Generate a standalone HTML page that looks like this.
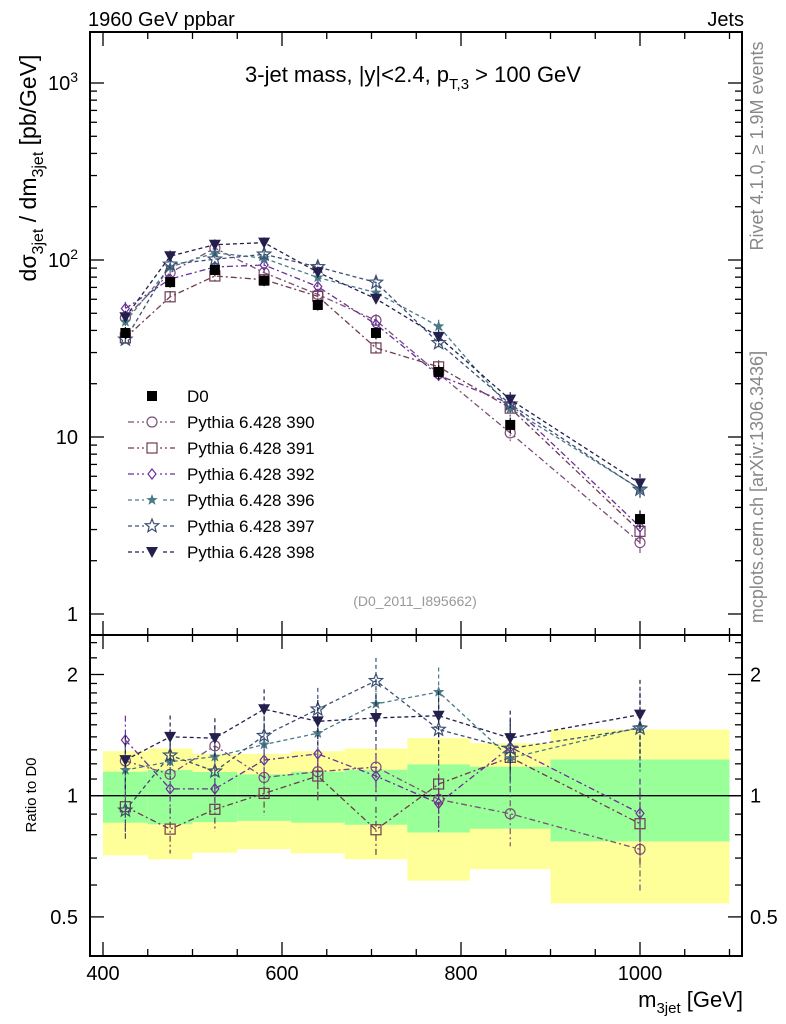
<!DOCTYPE html>
<html><head><meta charset="utf-8"><style>
body{margin:0;background:#fff;}
svg{display:block;font-family:"Liberation Sans",sans-serif;}
</style></head><body>
<svg id="chart" width="786" height="1024" viewBox="0 0 786 1024" xmlns="http://www.w3.org/2000/svg">
<g id="bands"></g>
<g id="marks"></g>
<g id="axes"></g>
<text x="88" y="26" font-size="20">1960 GeV ppbar</text>
<text x="744" y="26" font-size="20" text-anchor="end">Jets</text>
<text x="413" y="82" font-size="22" text-anchor="middle">3-jet mass, |y|&lt;2.4, p<tspan font-size="15" dy="7">T,3</tspan><tspan dy="-7"> &gt; 100 GeV</tspan></text>
<text x="415" y="606" font-size="14" fill="#999" text-anchor="middle">(D0_2011_I895662)</text>
<text transform="translate(763,146) rotate(-90)" font-size="18" fill="#888" text-anchor="middle">Rivet 4.1.0, ≥ 1.9M events</text>
<text transform="translate(763,487) rotate(-90)" font-size="18" fill="#888" text-anchor="middle">mcplots.cern.ch [arXiv:1306.3436]</text>
<text transform="translate(36,168) rotate(-90)" font-size="23" text-anchor="middle">dσ<tspan font-size="16" dy="7">3jet</tspan><tspan dy="-7"> / dm</tspan><tspan font-size="16" dy="7">3jet</tspan><tspan dy="-7"> [pb/GeV]</tspan></text>
<text transform="translate(36,795) rotate(-90)" font-size="15" text-anchor="middle">Ratio to D0</text>
<text x="743" y="1007" font-size="22" text-anchor="end">m<tspan font-size="15" dy="6">3jet</tspan><tspan dy="-6"> [GeV]</tspan></text>
</svg>
<script>
const binCenters=[425,475,525,580,640,705,775,855,1000];
const binEdges=[400,450,500,550,610,670,740,810,900,1100];
const d0Values=[38.7,75,87.8,76.4,55.7,38.7,23.3,11.7,3.44];
const d0RelErr=[0.08,0.07,0.07,0.07,0.07,0.08,0.09,0.1,0.12];
const ratio390=[1.22,1.13,1.33,1.11,1.147,1.178,0.979,0.902,0.736];
const ratio391=[0.939,0.826,0.925,1.013,1.119,0.823,1.069,1.245,0.852];
const ratio392=[1.375,1.04,1.04,1.226,1.27,1.119,0.957,1.32,0.904];
const ratio396=[1.158,1.215,1.25,1.34,1.43,1.69,1.81,1.24,1.48];
const ratio397=[0.92,1.26,1.15,1.41,1.64,1.93,1.46,1.31,1.47];
const ratio398=[1.226,1.40,1.39,1.64,1.53,1.56,1.58,1.39,1.59];
const mcRelErr=[0.15,0.13,0.12,0.12,0.13,0.14,0.15,0.17,0.22];
const yellowHi=[1.29,1.31,1.27,1.27,1.29,1.31,1.39,1.35,1.46];
const yellowLo=[0.711,0.695,0.722,0.737,0.719,0.695,0.615,0.657,0.54];
const greenHi=[1.147,1.158,1.145,1.13,1.147,1.16,1.196,1.18,1.23];
const greenLo=[0.857,0.849,0.86,0.866,0.857,0.847,0.81,0.828,0.77];
const mainTicks=[1,10,100,1000];
const mainTickLabels=["1","10","10²","10³"];
const ratioTicks=[0.5,1,2];
const ratioTickLabels=["0.5","1","2"];
const xTicks=[400,600,800,1000];

const NS="http://www.w3.org/2000/svg";
const L=90,R=742,T=32,MB=635,B=956;
const X=v=>103+(v-400)*0.895;
const Ym=v=>614-177*Math.log10(v);
const Yr=v=>795.7-121.2*Math.log2(v);
function el(tag,attrs,parent){const e=document.createElementNS(NS,tag);for(const k in attrs)e.setAttribute(k,attrs[k]);parent.appendChild(e);return e;}
const gB=document.getElementById('bands'),gM=document.getElementById('marks'),gA=document.getElementById('axes');

for(let i=0;i<binCenters.length;i++){
  const x1=X(binEdges[i]),x2=X(binEdges[i+1]);
  const y=el('rect',{x:x1,y:Yr(yellowHi[i]),width:x2-x1,height:Yr(yellowLo[i])-Yr(yellowHi[i]),fill:'#ffff99'},gB);
  
  
  const g=el('rect',{x:x1,y:Yr(greenHi[i]),width:x2-x1,height:Yr(greenLo[i])-Yr(greenHi[i]),fill:'#99ff99'},gB);
  
  
}
const one=el('line',{x1:L,x2:R,y1:Yr(1),y2:Yr(1),stroke:'#000','stroke-width':1.3},gB);



const series=[
 {name:'390',r:ratio390,c:'#7b4f78',m:'circle',dash:'6,3,2,3'},
 {name:'391',r:ratio391,c:'#6e3b50',m:'square',dash:'6,3,2,3'},
 {name:'392',r:ratio392,c:'#6a2f9a',m:'diamond',dash:'6,3,2,3'},
 {name:'396',r:ratio396,c:'#4a7a88',m:'starf',dash:'4,3'},
 {name:'397',r:ratio397,c:'#3b4f72',m:'star',dash:'4,3'},
 {name:'398',r:ratio398,c:'#23204d',m:'tri',dash:'4,3'}];
function starPts(cx,cy,ro,ri){let p=[];for(let k=0;k<10;k++){const a=-Math.PI/2+k*Math.PI/5,r=k%2?ri:ro;p.push((cx+r*Math.cos(a)).toFixed(1)+','+(cy+r*Math.sin(a)).toFixed(1));}return p.join(' ');}
function marker(m,x,y,c,p){
  let e;
  if(m==='circle')e=el('circle',{cx:x,cy:y,r:5,fill:'none',stroke:c,'stroke-width':1.2},p);
  else if(m==='square')e=el('rect',{x:x-5,y:y-5,width:10,height:10,fill:'none',stroke:c,'stroke-width':1.2},p);
  else if(m==='diamond')e=el('polygon',{points:`${x},${y-5} ${x+4},${y} ${x},${y+5} ${x-4},${y}`,fill:'none',stroke:c,'stroke-width':1.2},p);
  else if(m==='starf')e=el('polygon',{points:starPts(x,y,6,2.5),fill:c},p);
  else if(m==='star')e=el('polygon',{points:starPts(x,y,7,3),fill:'none',stroke:c,'stroke-width':1.2},p);
  else if(m==='tri')e=el('polygon',{points:`${x-6},${y-5} ${x+6},${y-5} ${x},${y+6}`,fill:c},p);
  else e=el('rect',{x:x-5,y:y-5,width:10,height:10,fill:c},p);
  return e;
}
series.forEach(s=>{
  const g=el('g',{},gM);
  
  
  const vals=s.r.map((r,i)=>r*d0Values[i]);
  el('polyline',{points:vals.map((v,i)=>X(binCenters[i])+','+Ym(v)).join(' '),fill:'none',stroke:s.c,'stroke-width':1.3,'stroke-dasharray':s.dash},g);
  el('polyline',{points:s.r.map((v,i)=>X(binCenters[i])+','+Yr(v)).join(' '),fill:'none',stroke:s.c,'stroke-width':1.3,'stroke-dasharray':s.dash},g);
  vals.forEach((v,i)=>{
    const x=X(binCenters[i]);
    el('line',{x1:x,x2:x,y1:Ym(v*(1+mcRelErr[i]*0.6)),y2:Ym(v*(1-mcRelErr[i]*0.6)),stroke:s.c,'stroke-width':1.2,'stroke-dasharray':s.dash},g);
    const pm=marker(s.m,x,Ym(v),s.c,g);
    
    
    const rv=s.r[i];
    el('line',{x1:x,x2:x,y1:Yr(rv*(1+mcRelErr[i])),y2:Yr(rv*(1-mcRelErr[i])),stroke:s.c,'stroke-width':1.2,'stroke-dasharray':s.dash},g);
    const rm=marker(s.m,x,Yr(rv),s.c,g);
    
    
  });
});
d0Values.forEach((v,i)=>{
  const x=X(binCenters[i]);
  el('line',{x1:x,x2:x,y1:Ym(v*(1+d0RelErr[i])),y2:Ym(v*(1-d0RelErr[i])),stroke:'#000','stroke-width':1.2},gM);
  const m=marker('sq',x,Ym(v),'#000',gM);
  
  
});

// legend
const lg=el('g',{},gM);


const ld=marker('sq',152,396,'#000',lg);


el('text',{x:187,y:402,'font-size':17},lg).textContent='D0';
series.forEach((s,k)=>{
  const y=422+k*26;
  el('line',{x1:128,x2:175,y1:y,y2:y,stroke:s.c,'stroke-width':1.3,'stroke-dasharray':s.dash},lg);
  el('rect',{x:144,y:y-6,width:16,height:12,fill:'#fff'},lg);
  marker(s.m,152,y,s.c,lg);
  const t=el('text',{x:187,y:y+6,'font-size':17},lg);
  
  
  t.textContent='Pythia 6.428 '+s.name;
});

// frames
el('rect',{x:L,y:T,width:R-L,height:MB-T,fill:'none',stroke:'#000','stroke-width':2},gA);
el('rect',{x:L,y:MB,width:R-L,height:B-MB,fill:'none',stroke:'#000','stroke-width':2},gA);
for(let e=0;e<=3;e++)for(let k=1;k<10;k++){
  const v=Math.pow(10,e)*k,y=Ym(v);if(y<T)continue;
  const len=k===1?14:7;
  el('line',{x1:L,x2:L+len,y1:y,y2:y,stroke:'#000','stroke-width':1.3},gA);
  el('line',{x1:R,x2:R-len,y1:y,y2:y,stroke:'#000','stroke-width':1.3},gA);
}
mainTicks.forEach((v,i)=>{
  const t=el('text',{x:78,y:Ym(v)+7,'font-size':20,'text-anchor':'end'},gA);
  
  
  if(i>=2){t.textContent='10';const s=el('tspan',{'font-size':14,dy:-8},t);s.textContent=String(i);}
  else t.textContent=mainTickLabels[i];
});
[0.5,0.6,0.7,0.8,0.9,1,1.1,1.2,1.3,1.4,1.5,1.6,1.7,1.8,1.9,2,2.2,2.4].forEach(v=>{
  const y=Yr(v);const len=ratioTicks.includes(v)?14:7;
  el('line',{x1:L,x2:L+len,y1:y,y2:y,stroke:'#000','stroke-width':1.3},gA);
  el('line',{x1:R,x2:R-len,y1:y,y2:y,stroke:'#000','stroke-width':1.3},gA);
});
ratioTicks.forEach((v,i)=>{
  const a=el('text',{x:78,y:Yr(v)+7,'font-size':20,'text-anchor':'end'},gA);a.textContent=ratioTickLabels[i];
  
  
  const b=el('text',{x:750,y:Yr(v)+7,'font-size':20},gA);b.textContent=ratioTickLabels[i];
  
  
});
for(let v=400;v<=1100;v+=50){
  const x=X(v),len=v%200===0?14:7;
  el('line',{x1:x,x2:x,y1:B,y2:B-len,stroke:'#000','stroke-width':1.3},gA);
  el('line',{x1:x,x2:x,y1:MB,y2:MB+len,stroke:'#000','stroke-width':1.3},gA);
  el('line',{x1:x,x2:x,y1:MB,y2:MB-len,stroke:'#000','stroke-width':1.3},gA);
  el('line',{x1:x,x2:x,y1:T,y2:T+len,stroke:'#000','stroke-width':1.3},gA);
}
xTicks.forEach(v=>{
  const t=el('text',{x:X(v),y:980,'font-size':20,'text-anchor':'middle'},gA);
  
  
  t.textContent=String(v);
});
</script>
</body></html>
